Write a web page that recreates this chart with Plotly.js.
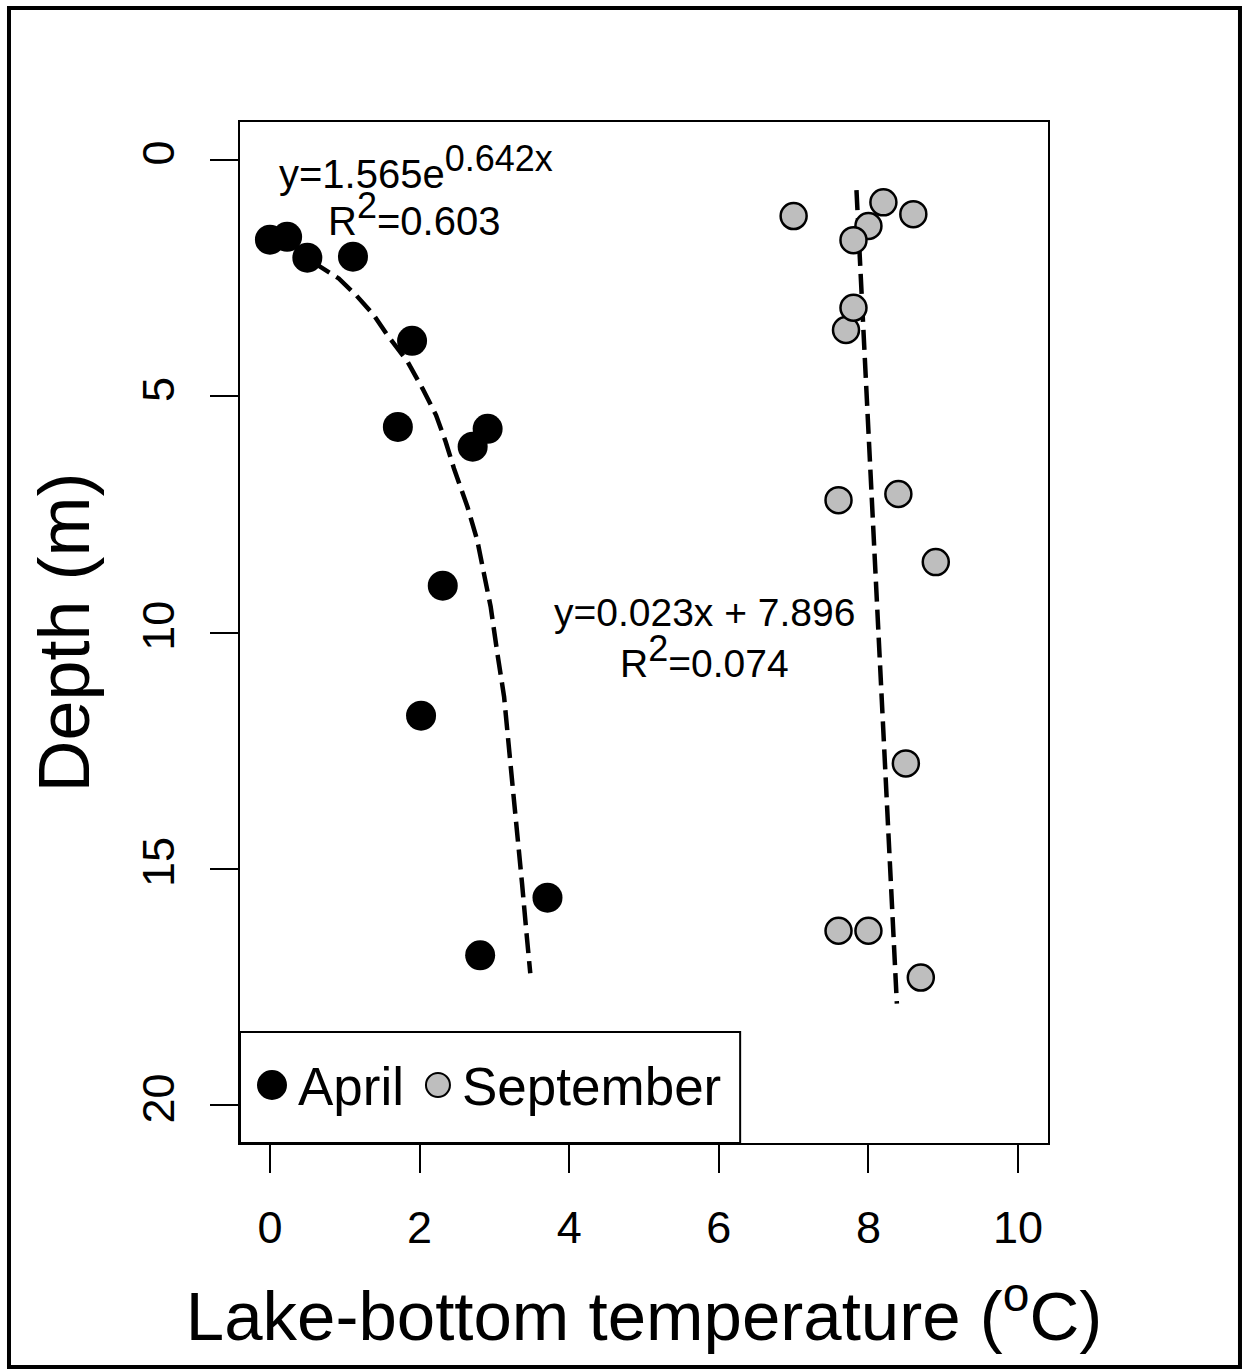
<!DOCTYPE html>
<html>
<head>
<meta charset="utf-8">
<script src="https://cdn.plot.ly/plotly-3.0.1.min.js"></script>
<style>
  html, body { margin: 0; padding: 0; background: #ffffff; }
  #chart { width: 1248px; height: 1371px; }
</style>
</head>
<body>
<div id="chart"></div>
<script>
// ---- Data ----
const aprilTemp  = [0.00, 0.23, 0.50, 1.11, 1.90, 1.71, 2.91, 2.71, 2.31, 2.02, 3.71, 2.81];
const aprilDepth = [1.69, 1.63, 2.07, 2.05, 3.83, 5.65, 5.69, 6.07, 9.01, 11.76, 15.61, 16.83];

const septTemp  = [7.00, 8.20, 8.60, 8.00, 7.80, 7.70, 7.80, 7.60, 8.40, 8.90, 8.50, 7.60, 8.00, 8.70];
const septDepth = [1.19, 0.90, 1.15, 1.40, 1.70, 3.60, 3.13, 7.20, 7.07, 8.51, 12.77, 16.31, 16.31, 17.30];

// April fitted curve
const aprilFitTemp  = [0.57, 0.92, 1.15, 1.39, 1.57, 1.84, 2.04, 2.22, 2.35, 2.46, 2.64, 2.77, 2.86, 2.95, 3.04, 3.13, 3.24, 3.31, 3.37, 3.43, 3.48];
const aprilFitDepth = [2.16, 2.51, 2.86, 3.29, 3.71, 4.27, 4.84, 5.40, 5.97, 6.53, 7.34, 8.04, 8.75, 9.45, 10.44, 11.36, 13.19, 14.25, 15.31, 16.37, 17.21];

// September fitted line (traced end points)
const septFitTemp  = [7.84, 8.38];
const septFitDepth = [0.64, 17.85];

const xTickVals = [0, 2, 4, 6, 8, 10];
const xTickText = ['0', '2', '4', '6', '8', '10'];
const yTickVals = [0, 5, 10, 15, 20];
const yTickText = ['0', '5', '10', '15', '20'];

const seriesNames = ['April', 'September'];
const aprilEq = 'y=1.565e<sup><span style="font-size:36px">0.642x</span></sup>';
const aprilR2 = 'R<sup><span style="font-size:36px">2</span></sup>=0.603';
const septEq  = 'y=0.023x + 7.896';
const septR2  = 'R<sup><span style="font-size:36px">2</span></sup>=0.074';
const xTitle = 'Lake-bottom temperature (<sup><span style="font-size:48px">o</span></sup>C)';
const yTitle = 'Depth (m)';

const FONT = 'Liberation Sans, Arial, Helvetica, sans-serif';

const traces = [
  {
    x: aprilFitTemp, y: aprilFitDepth, type: 'scatter', mode: 'lines',
    line: { color: '#000000', width: 4.5, dash: '20px,8px' },
    showlegend: false, hoverinfo: 'skip'
  },
  {
    x: septFitTemp, y: septFitDepth, type: 'scatter', mode: 'lines',
    line: { color: '#000000', width: 4.5, dash: '20px,8px' },
    showlegend: false, hoverinfo: 'skip'
  },
  {
    name: seriesNames[0], x: aprilTemp, y: aprilDepth, type: 'scatter', mode: 'markers',
    marker: { color: '#000000', size: 30, line: { width: 0 } },
    showlegend: false
  },
  {
    name: seriesNames[1], x: septTemp, y: septDepth, type: 'scatter', mode: 'markers',
    marker: { color: '#bebebe', size: 26, line: { color: '#000000', width: 2.5 } },
    showlegend: false
  }
];

const layout = {
  width: 1248, height: 1371,
  margin: { l: 240, r: 200, t: 122, b: 228 },
  paper_bgcolor: '#ffffff', plot_bgcolor: '#ffffff',
  font: { family: FONT, color: '#000000' },
  showlegend: false,
  xaxis: {
    range: [-0.4, 10.4], autorange: false,
    tickmode: 'array', tickvals: xTickVals, ticktext: xTickText,
    ticks: 'outside', ticklen: 28, tickwidth: 2, tickcolor: '#000000',
    tickfont: { family: FONT, size: 45, color: '#000000' },
    ticklabelstandoff: 16,
    showline: true, linecolor: '#000000', linewidth: 2, mirror: true,
    showgrid: false, zeroline: false,
    title: { text: xTitle, font: { family: FONT, size: 69, color: '#000000' }, standoff: 40 },
    automargin: false
  },
  yaxis: {
    range: [20.8, -0.8], autorange: false,
    tickmode: 'array', tickvals: yTickVals, ticktext: yTickText,
    ticks: 'outside', ticklen: 28, tickwidth: 2, tickcolor: '#000000',
    tickangle: -90,
    tickfont: { family: FONT, size: 45, color: '#000000' },
    ticklabelstandoff: 18,
    showline: true, linecolor: '#000000', linewidth: 2, mirror: true,
    showgrid: false, zeroline: false,
    title: { text: yTitle, font: { family: FONT, size: 72, color: '#000000' }, standoff: 20 },
    automargin: false
  },
  shapes: [
    // outer figure frame
    { type: 'rect', xref: 'paper', yref: 'paper', x0: -0.2859, x1: 1.2376, y0: -0.2194, y1: 1.1117,
      line: { color: '#000000', width: 4 }, fillcolor: 'rgba(0,0,0,0)', layer: 'above' },
    // legend box
    { type: 'rect', xref: 'paper', yref: 'paper', x0: 0, x1: 0.619, y0: 0, y1: 0.1087,
      line: { color: '#000000', width: 2 }, fillcolor: '#ffffff', layer: 'above' },
    // legend symbols
    { type: 'circle', xref: 'paper', yref: 'paper', xsizemode: 'pixel', ysizemode: 'pixel',
      xanchor: 0.0396, yanchor: 0.0568, x0: -15, x1: 15, y0: -15, y1: 15,
      fillcolor: '#000000', line: { width: 0 }, layer: 'above' },
    { type: 'circle', xref: 'paper', yref: 'paper', xsizemode: 'pixel', ysizemode: 'pixel',
      xanchor: 0.245, yanchor: 0.0568, x0: -12, x1: 12, y0: -12, y1: 12,
      fillcolor: '#bebebe', line: { color: '#000000', width: 2 }, layer: 'above' }
  ],
  annotations: [
    { text: aprilEq, xref: 'x', yref: 'y', x: 1.95, y: 0.15, xanchor: 'center', yanchor: 'middle',
      showarrow: false, font: { family: FONT, size: 40, color: '#000000' } },
    { text: aprilR2, xref: 'x', yref: 'y', x: 1.93, y: 1.15, xanchor: 'center', yanchor: 'middle',
      showarrow: false, font: { family: FONT, size: 40, color: '#000000' } },
    { text: septEq, xref: 'x', yref: 'y', x: 5.81, y: 9.57, xanchor: 'center', yanchor: 'middle',
      showarrow: false, font: { family: FONT, size: 39, color: '#000000' } },
    { text: septR2, xref: 'x', yref: 'y', x: 5.81, y: 10.5, xanchor: 'center', yanchor: 'middle',
      showarrow: false, font: { family: FONT, size: 39, color: '#000000' } },
    { text: seriesNames[0], xref: 'paper', yref: 'paper', x: 0.0693, y: 0.0558, xanchor: 'left', yanchor: 'middle',
      showarrow: false, font: { family: FONT, size: 53, color: '#000000' } },
    { text: seriesNames[1], xref: 'paper', yref: 'paper', x: 0.2723, y: 0.0558, xanchor: 'left', yanchor: 'middle',
      showarrow: false, font: { family: FONT, size: 53, color: '#000000' } }
  ]
};

Plotly.newPlot('chart', traces, layout, { displayModeBar: false, staticPlot: true });
</script>
</body>
</html>
